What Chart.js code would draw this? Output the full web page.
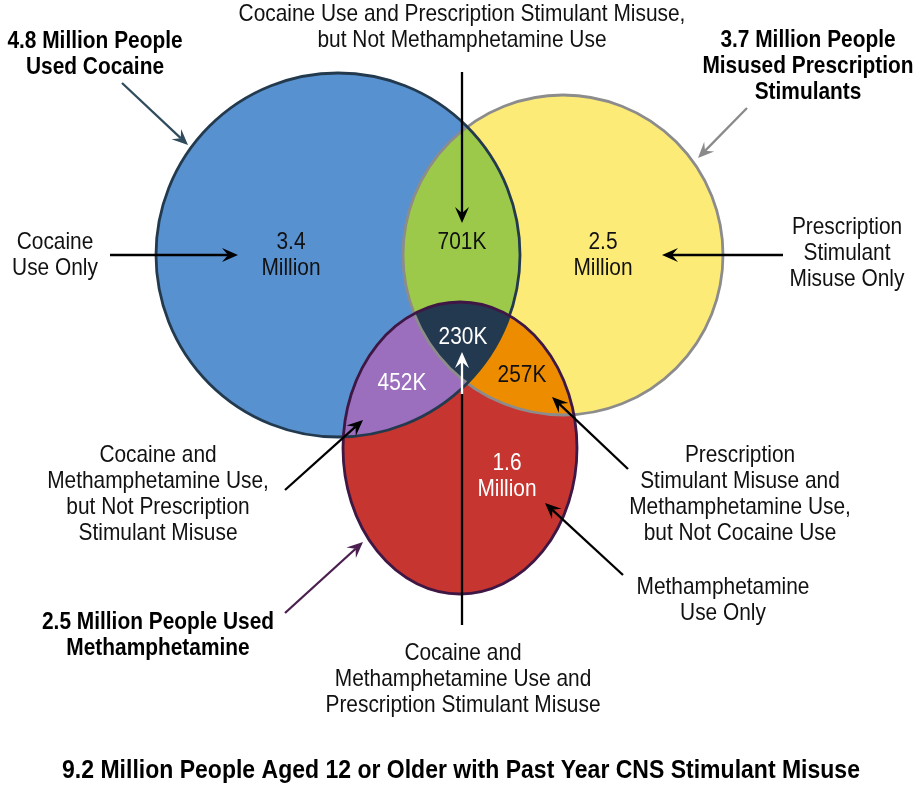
<!DOCTYPE html>
<html>
<head>
<meta charset="utf-8">
<script src="https://cdn.jsdelivr.net/npm/chart.js@4.4.1/dist/chart.umd.min.js"></script>
<style>
  html, body { margin: 0; padding: 0; background: #fff; }
  canvas { display: block; }
</style>
</head>
<body>
<canvas id="venn-Chart" width="922" height="789"></canvas>
<script>
// values (people aged 12+, past year)
const regionNames = [
  "Cocaine Use Only",
  "Prescription Stimulant Misuse Only",
  "Methamphetamine Use Only",
  "Cocaine Use and Prescription Stimulant Misuse, but Not Methamphetamine Use",
  "Cocaine and Methamphetamine Use, but Not Prescription Stimulant Misuse",
  "Prescription Stimulant Misuse and Methamphetamine Use, but Not Cocaine Use",
  "Cocaine and Methamphetamine Use and Prescription Stimulant Misuse",
];
const regionValues = [3400, 2500, 1600, 701, 452, 257, 230]; // thousands
const setNames = ["Used Cocaine", "Misused Prescription Stimulants", "Used Methamphetamine"];
const setTotals = [4.8, 3.7, 2.5]; // millions
const totalPeople = 9.2; // millions

// layout, in axis units (0..922 x 0..789)
const labelSpots = [[291, 255], [603, 255], [507, 476], [462, 242], [402, 383], [522, 375], [463, 337]];
const labelColors = ["#111", "#111", "#fff", "#111", "#fff", "#111", "#fff"];
const shapes = [
  { cx: 338, cy: 255, rx: 182, ry: 182, fill: "#5891CF", stroke: "#233A4E" }, // cocaine
  { cx: 563, cy: 255, rx: 160, ry: 160, fill: "#FDEB78", stroke: "#8C8C8C" }, // prescription
  { cx: 460, cy: 448, rx: 117, ry: 146, fill: "#C63530", stroke: "#3F1745" }, // meth
];
const overlapColors = { ab: "#9CC94A", ac: "#9B6EBE", bc: "#EE8C00", abc: "#23394F" };

const fam = "'Liberation Sans', Arial, sans-serif";

function fmt(v) {
  if (v >= 1000) return [(v / 1000).toFixed(1), "Million"];
  return [v + "K"];
}

const notes = [
  { lines: ["Cocaine Use and Prescription Stimulant Misuse,", "but Not Methamphetamine Use"], x: 462, y: 14 },
  { lines: ["Cocaine", "Use Only"], x: 55, y: 242 },
  { lines: ["Prescription", "Stimulant", "Misuse Only"], x: 847, y: 227 },
  { lines: ["Cocaine and", "Methamphetamine Use,", "but Not Prescription", "Stimulant Misuse"], x: 158, y: 455 },
  { lines: ["Prescription", "Stimulant Misuse and", "Methamphetamine Use,", "but Not Cocaine Use"], x: 740, y: 455 },
  { lines: ["Methamphetamine", "Use Only"], x: 723, y: 587 },
  { lines: ["Cocaine and", "Methamphetamine Use and", "Prescription Stimulant Misuse"], x: 463, y: 653 },
];
const setNotes = [
  { lines: [setTotals[0] + " Million People", "Used Cocaine"], x: 95, y: 41 },
  { lines: [setTotals[1] + " Million People", "Misused Prescription", "Stimulants"], x: 808, y: 40 },
  { lines: [setTotals[2] + " Million People Used", "Methamphetamine"], x: 158, y: 622 },
];

const arrows = [
  { from: [462, 72], to: [462, 223], color: "#000" },
  { from: [110, 255], to: [238, 255], color: "#000" },
  { from: [783, 255], to: [662, 255], color: "#000" },
  { from: [122, 83], to: [188, 145], color: "#2F4B5C" },
  { from: [747, 108], to: [698, 158], color: "#8A8A8A" },
  { from: [285, 490], to: [363, 420], color: "#000" },
  { from: [628, 469], to: [552, 397], color: "#000" },
  { from: [623, 575], to: [545, 503], color: "#000" },
  { from: [285, 613], to: [363, 542], color: "#4B1F4F" },
  { from: [462, 394], to: [462, 352], color: "#fff" },
];
const plainLines = [{ from: [462, 625], to: [462, 394], color: "#000" }];

function shapePath(ctx, chart, s) {
  const x = chart.scales.x, y = chart.scales.y;
  const px = x.getPixelForValue(s.cx), py = y.getPixelForValue(s.cy);
  const rx = Math.abs(x.getPixelForValue(s.cx + s.rx) - px);
  const ry = Math.abs(y.getPixelForValue(s.cy + s.ry) - py);
  ctx.beginPath();
  ctx.ellipse(px, py, rx, ry, 0, 0, Math.PI * 2);
}

function fillClipped(ctx, chart, clipIdx, fillIdx, color) {
  ctx.save();
  clipIdx.forEach((i) => { shapePath(ctx, chart, shapes[i]); ctx.clip(); });
  shapePath(ctx, chart, shapes[fillIdx]);
  ctx.fillStyle = color;
  ctx.fill();
  ctx.restore();
}

function pt(chart, p) {
  return [chart.scales.x.getPixelForValue(p[0]), chart.scales.y.getPixelForValue(p[1])];
}

function drawArrow(ctx, chart, a, head) {
  const [x1, y1] = pt(chart, a.from);
  const [x2, y2] = pt(chart, a.to);
  const ang = Math.atan2(y2 - y1, x2 - x1);
  const len = 16, half = 7, notch = 10;
  const bx = x2 - Math.cos(ang) * notch, by = y2 - Math.sin(ang) * notch;
  ctx.save();
  ctx.strokeStyle = a.color;
  ctx.fillStyle = a.color;
  ctx.lineWidth = 2.3;
  ctx.beginPath();
  ctx.moveTo(x1, y1);
  ctx.lineTo(head ? bx : x2, head ? by : y2);
  ctx.stroke();
  if (head) {
    const cx = x2 - Math.cos(ang) * len, cy = y2 - Math.sin(ang) * len;
    const nx = -Math.sin(ang) * half, ny = Math.cos(ang) * half;
    ctx.beginPath();
    ctx.moveTo(x2, y2);
    ctx.lineTo(cx + nx, cy + ny);
    ctx.lineTo(bx, by);
    ctx.lineTo(cx - nx, cy - ny);
    ctx.closePath();
    ctx.fill();
  }
  ctx.restore();
}

function drawLines(ctx, x, y, lines, font, color, gap, squeeze) {
  ctx.save();
  ctx.font = font;
  ctx.fillStyle = color;
  ctx.textAlign = "center";
  ctx.textBaseline = "middle";
  lines.forEach((t, i) => {
    ctx.save();
    ctx.translate(x, y + i * gap);
    ctx.scale(squeeze, 1);
    ctx.fillText(t, 0, 0);
    ctx.restore();
  });
  ctx.restore();
}

const vennPlugin = {
  id: "venn",
  beforeDatasetsDraw(chart) {
    const ctx = chart.ctx;
    shapes.forEach((s) => {
      shapePath(ctx, chart, s);
      ctx.fillStyle = s.fill;
      ctx.fill();
    });
    fillClipped(ctx, chart, [0], 1, overlapColors.ab);
    fillClipped(ctx, chart, [0], 2, overlapColors.ac);
    fillClipped(ctx, chart, [1], 2, overlapColors.bc);
    fillClipped(ctx, chart, [0, 1], 2, overlapColors.abc);
    [1, 0, 2].forEach((i) => {
      shapePath(ctx, chart, shapes[i]);
      ctx.strokeStyle = shapes[i].stroke;
      ctx.lineWidth = 2.8;
      ctx.stroke();
    });
  },
  afterDatasetsDraw(chart) {
    const ctx = chart.ctx;
    const meta = chart.getDatasetMeta(0);
    plainLines.forEach((l) => drawArrow(ctx, chart, l, false));
    arrows.forEach((a) => drawArrow(ctx, chart, a, true));
    meta.data.forEach((el, i) => {
      const lines = fmt(regionValues[i]);
      const y0 = el.y - (lines.length - 1) * 13;
      drawLines(ctx, el.x, y0, lines, "24px " + fam, labelColors[i], 26, 0.87);
    });
    notes.forEach((n) => {
      const [x, y] = pt(chart, [n.x, n.y]);
      drawLines(ctx, x, y, n.lines, "24px " + fam, "#111", 26, 0.87);
    });
    setNotes.forEach((n) => {
      const [x, y] = pt(chart, [n.x, n.y]);
      drawLines(ctx, x, y, n.lines, "bold 24px " + fam, "#000", 26, 0.87);
    });
    const [tx, ty] = pt(chart, [461, 771]);
    drawLines(ctx, tx, ty, [totalPeople + " Million People Aged 12 or Older with Past Year CNS Stimulant Misuse"], "bold 26px " + fam, "#000", 0, 0.885);
  },
};

const data = {
  datasets: [
    {
      label: "Regions",
      data: labelSpots.map((p, i) => ({ x: p[0], y: p[1], name: regionNames[i] })),
      pointRadius: 0,
      pointHoverRadius: 0,
    },
  ],
};

const config = {
  type: "scatter",
  data: data,
  options: {
    responsive: false,
    animation: false,
    layout: { padding: 0 },
    plugins: { legend: { display: false }, tooltip: { enabled: false } },
    scales: {
      x: { type: "linear", min: 0, max: 922, display: false },
      y: { type: "linear", min: 0, max: 789, reverse: true, display: false },
    },
  },
  plugins: [vennPlugin],
};

let myChart = new Chart(document.getElementById("venn-Chart"), config);
</script>
</body>
</html>
